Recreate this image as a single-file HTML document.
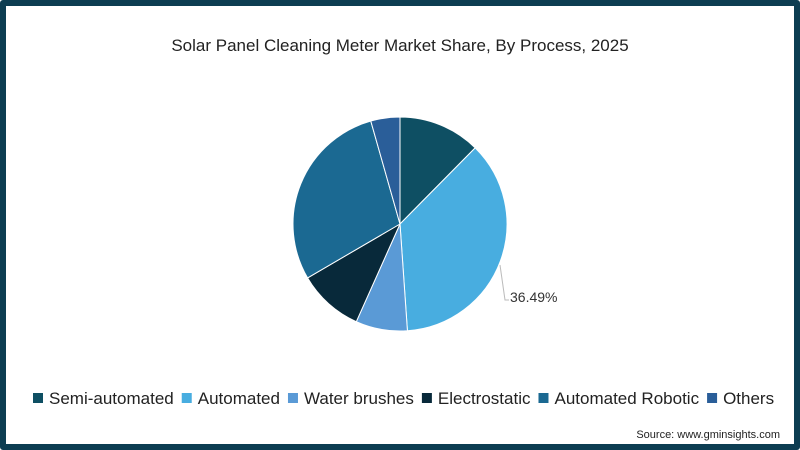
<!DOCTYPE html>
<html><head><meta charset="utf-8"><style>
body{margin:0;width:800px;height:450px;overflow:hidden;background:#fff;font-family:"Liberation Sans",sans-serif}
#frame{position:absolute;left:0;top:0;width:788px;height:438px;border:6px solid #0d3d52;border-radius:3px;background:#fff}
</style></head><body>
<div id="frame"></div>
<svg id="c" width="800" height="450" style="position:absolute;left:0;top:0">
<text x="400" y="51" text-anchor="middle" font-size="17" fill="#222">Solar Panel Cleaning Meter Market Share, By Process, 2025</text>
<g id="slices"></g>
<path d="M500,265 L505,300 L509,300" stroke="#bbb" fill="none"/>
<text x="510" y="302" font-size="14" fill="#333">36.49%</text>
<g id="legend"></g>
<text x="780" y="438" text-anchor="end" font-size="11" fill="#222">Source: www.gminsights.com</text>
</svg>
<script>
const categories=["Semi-automated","Automated","Water brushes","Electrostatic","Automated Robotic","Others"];
const values=[12.4,36.49,7.8,9.9,29.0,4.4];
const colors=["#0e4f63","#48ade0","#5a9ad6","#08293a","#1b6992","#2a5e99"];
const ns="http://www.w3.org/2000/svg";
const cx=400,cy=224,r=107;
const total=values.reduce((a,b)=>a+b,0);
let a=0;
const g=document.getElementById('slices');
function pt(t){return [cx+r*Math.sin(t),cy-r*Math.cos(t)];}
values.forEach((v,i)=>{
 const a2=a+v/total*2*Math.PI;
 const p1=pt(a),p2=pt(a2);
 const p=document.createElementNS(ns,'path');
 p.setAttribute('d',`M${cx},${cy} L${p1[0]},${p1[1]} A${r},${r} 0 ${a2-a>Math.PI?1:0} 1 ${p2[0]},${p2[1]} Z`);
 p.setAttribute('fill',colors[i]);p.setAttribute('stroke','#fff');p.setAttribute('stroke-width','1');
 
 
 g.appendChild(p);a=a2;
});
const lg=document.getElementById('legend');
let x=33;
categories.forEach((c,i)=>{
 const grp=document.createElementNS(ns,'g');
 
 
 const s=document.createElementNS(ns,'rect');
 s.setAttribute('x',x);s.setAttribute('y',393);s.setAttribute('width',10);s.setAttribute('height',10);s.setAttribute('fill',colors[i]);
 grp.appendChild(s);
 const t=document.createElementNS(ns,'text');
 t.setAttribute('x',x+16);t.setAttribute('y',404);t.setAttribute('font-size','17');t.setAttribute('fill','#222');
 t.textContent=c;grp.appendChild(t);lg.appendChild(grp);
 x+=16+t.getComputedTextLength()+8;
});
</script>
</body></html>
